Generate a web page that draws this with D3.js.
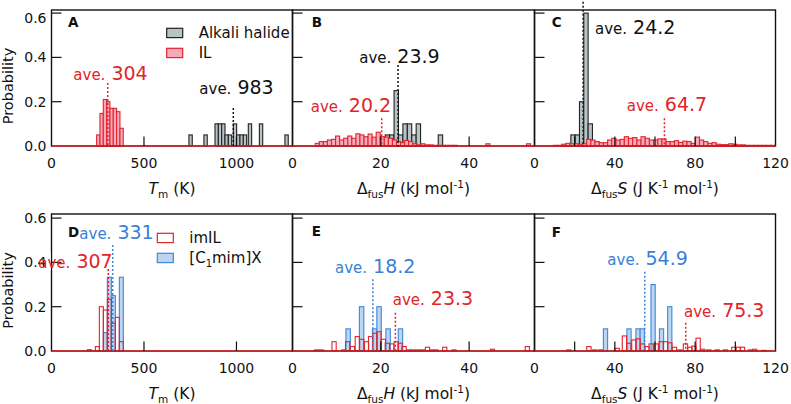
<!DOCTYPE html>
<html><head><meta charset="utf-8">
<script src="https://cdn.jsdelivr.net/npm/d3@7"></script>
<style>body{margin:0;background:#fff}svg{display:block}text{font-family:"DejaVu Sans",sans-serif}</style>
</head><body><svg id="c" width="791" height="404"></svg>
<script>
// ---------------- DATA ----------------
// Panel A: melting point Tm (K)
const tmILStart = 244, tmILWidth = 18;
const tmILProb = [0.05, 0.147, 0.21, 0.2, 0.17, 0.17, 0.155, 0.08];
const tmAlkaliWidth = 18;
const tmAlkaliX0 = [743, 824, 884, 902, 920, 938, 956, 983, 1001, 1019, 1037, 1064, 1124, 1262];
const tmAlkaliProb = [0.05, 0.05, 0.1, 0.1, 0.1, 0.05, 0.05, 0.1, 0.05, 0.05, 0.05, 0.1, 0.1, 0.05];
const tmILMean = 304, tmAlkaliMean = 983;
// Panel B: fusion enthalpy (kJ/mol)
const hILStart = 5.15, hILWidth = 0.92;
const hILProb = [0.012,0.02,0.02,0.027,0.03,0.045,0.027,0.035,0.045,0.035,0.055,0.05,0.042,0.054,0.04,0.062,0.042,0.04,0.035,0.027,0.02,0.015,0.025,0.02,0.01,0.005,0.01,0.005,0.005,0.003,0.003,0.003,0.003,0.003,0.003,0,0,0,0,0,0,0,0.01,0,0,0,0,0,0,0,0,0,0.01];
const hAlkaliWidth = 1.0;
const hAlkaliX0 = [21, 22, 23, 24, 25, 26, 27, 28, 33];
const hAlkaliProb = [0.05, 0.05, 0.25, 0.05, 0.1, 0.1, 0.05, 0.1, 0.05];
const hILMean = 20.2, hAlkaliMean = 23.9;
// Panel C: fusion entropy (J/K/mol)
const sILStart = 9.36, sILWidth = 2.08;
const sILProb = [0.003,0.003,0.008,0.012,0.01,0.01,0.008,0.01,0.03,0.027,0.02,0.015,0.015,0.027,0.035,0.027,0.03,0.042,0.035,0.038,0.027,0.042,0.035,0.027,0.027,0.032,0.032,0.02,0.02,0.024,0.016,0.022,0.02,0.012,0.04,0.027,0.02,0.012,0.015,0.008,0.006,0.006,0.01,0.008,0.005,0.005,0.003,0.003,0.003,0.003,0.003,0.003,0.003];
const sAlkaliStart = 18.1, sAlkaliWidth = 2.15;
const sAlkaliProb = [0.05, 0.05, 0.2, 0.6, 0.1];
const sILMean = 64.7, sAlkaliMean = 24.2;
// Panel D: Tm, imIL vs [C1mim]X
const dStart = 194, dWidth = 21.6;
const tmImILProb = [0.006, 0, 0.02, 0.2, 0.185, 0.233, 0.125, 0.152, 0.042];
const tmC1Prob   = [0, 0, 0, 0, 0.083, 0.333, 0.25, 0, 0.333];
const tmImILMean = 307, tmC1Mean = 331;
// Panel E: enthalpy
const hImILWidth = 0.95;
const hImILX0 = [5.0,6.1,8.94,11.1,12.0,13.1,14.2,15.2,16.3,17.2,18.2,19.1,20.1,21.0,22.0,23.0,23.9,24.8,25.9,26.9,28.0,29.0,30.1,31.0,32.0,34.0,36.1,44.8,52.7];
const hImILProb = [0.005,0.005,0.042,0.005,0.042,0.02,0.065,0.053,0.042,0.065,0.08,0.087,0.053,0.035,0.032,0.042,0.035,0.02,0.005,0.005,0.005,0.005,0.017,0.005,0.005,0.017,0.005,0.008,0.02];
const hC1Width = 1.0;
const hC1X0 = [12.1, 15.15, 18.1, 19.1, 21.15, 23.95];
const hC1Prob = [0.1, 0.2, 0.1, 0.2, 0.1, 0.1];
const hImILMean = 23.3, hC1Mean = 18.2;
// Panel F: entropy
const sImILWidth = 2.15;
const sImILX0 = [16.0,26.0,28.8,31.8,40.1,43.7,45.9,48.4,50.5,52.7,55.0,57.0,59.5,62.0,64.2,66.3,68.6,71.3,74.1,76.3,78.3,80.4,82.6,85.7,89.9,94.0,98.2,100.3,102.5,106.5,108.5,113.1];
const sImILProb = [0.005,0.02,0.005,0.005,0.012,0.068,0.035,0.05,0.055,0.032,0.02,0.032,0.032,0.042,0.042,0.037,0.017,0.005,0.032,0.017,0.022,0.058,0.008,0.005,0.005,0.005,0.017,0.017,0.017,0.005,0.008,0.003];
const sC1Width = 2.1;
const sC1X0 = [34.3, 46.0, 50.5, 52.6, 58.0, 62.2, 66.3];
const sC1Prob = [0.1, 0.1, 0.1, 0.1, 0.3, 0.1, 0.2];
const sImILMean = 75.3, sC1Mean = 54.9;
// Axes
const yTicks = [0, 0.2, 0.4, 0.6];
const tmTicks = [0, 500, 1000], tmLabels = [0, 500, 1000];
const hTicks = [0, 20, 40], hLabels = [0, 20, 40];
const sTicks = [0, 20, 40, 60, 80, 100, 120], sLabels = [0, 40, 80, 120];
const panelLetters = ["A","B","C","D","E","F"];

// ---------------- STYLE ----------------
const RED = "#e3242b", PINK = "#f6aabb", GRAYF = "#b7c3c4", BLUE = "#3f86dd", BLUEF = "#bcd5f0", BLUET = "#3a7fd8";
const svg = d3.select("#c");
const cols = [[51.5, 292.5], [292.5, 534.5], [534.5, 775.5]];
const rows = [{top: 10, base: 146}, {top: 214, base: 351}];
const xDomains = [[0, 1303], [0, 54.8], [0, 120]];
const seq = (start, w, n) => d3.range(n).map(i => start + i * w);

function drawBars(g, xs, ys, x0s, probs, width, fill, stroke, sw) {
  g.append("g").selectAll("rect")
    .data(x0s.map((x0, i) => ({x0, p: probs[i]})).filter(d => d.p > 0))
    .join("rect")
    .attr("x", d => xs(d.x0)).attr("width", d => xs(d.x0 + width) - xs(d.x0))
    .attr("y", d => ys(d.p)).attr("height", d => ys(0) - ys(d.p))
    .attr("fill", fill).attr("stroke", stroke).attr("stroke-width", sw);
}

const panels = [
  {r:0,c:0, ticks:tmTicks, labels:tmLabels, series:[
    {x0:tmAlkaliX0, p:tmAlkaliProb, w:tmAlkaliWidth, fill:GRAYF, stroke:"#222"},
    {x0:seq(tmILStart,tmILWidth,tmILProb.length), p:tmILProb, w:tmILWidth, fill:PINK, stroke:RED}],
   means:[{v:tmILMean, col:RED, lc:RED, dx:-34.4, by:80, top:83, num:"304"},
          {v:tmAlkaliMean, col:"#111", lc:"#111", dx:-34, by:94.3, top:108, num:"983"}]},
  {r:0,c:1, ticks:hTicks, labels:hLabels, series:[
    {x0:hAlkaliX0, p:hAlkaliProb, w:hAlkaliWidth, fill:GRAYF, stroke:"#222"},
    {x0:seq(hILStart,hILWidth,hILProb.length), p:hILProb, w:hILWidth, fill:PINK, stroke:RED}],
   means:[{v:hAlkaliMean, col:"#111", lc:"#111", dx:-38.8, by:63.3, top:65, num:"23.9"},
          {v:hILMean, col:RED, lc:RED, dx:-71, by:111.7, top:118.3, num:"20.2"}]},
  {r:0,c:2, ticks:sTicks, labels:sLabels, series:[
    {x0:seq(sAlkaliStart,sAlkaliWidth,sAlkaliProb.length), p:sAlkaliProb, w:sAlkaliWidth, fill:GRAYF, stroke:"#222"},
    {x0:seq(sILStart,sILWidth,sILProb.length), p:sILProb, w:sILWidth, fill:PINK, stroke:RED}],
   means:[{v:sAlkaliMean, col:"#111", lc:"#111", dx:11.9, by:34.3, top:1.7, num:"24.2"},
          {v:sILMean, col:RED, lc:RED, dx:-37.7, by:111, top:118.3, num:"64.7"}]},
  {r:1,c:0, ticks:tmTicks, labels:tmLabels, series:[
    {x0:seq(dStart,dWidth,tmC1Prob.length), p:tmC1Prob, w:dWidth, fill:BLUEF, stroke:BLUE},
    {x0:seq(dStart,dWidth,tmImILProb.length), p:tmImILProb, w:dWidth, fill:"none", stroke:RED}],
   means:[{v:tmC1Mean, col:BLUET, lc:BLUE, dx:-33.4, by:239.3, top:245, num:"331"},
          {v:tmImILMean, col:RED, lc:RED, dx:-70, by:268.3, top:269, num:"307", bg:true}]},
  {r:1,c:1, ticks:hTicks, labels:hLabels, series:[
    {x0:hC1X0, p:hC1Prob, w:hC1Width, fill:BLUEF, stroke:BLUE},
    {x0:hImILX0, p:hImILProb, w:hImILWidth, fill:"none", stroke:RED}],
   means:[{v:hC1Mean, col:BLUET, lc:BLUE, dx:-37.9, by:273.3, top:279.3, num:"18.2"},
          {v:hImILMean, col:RED, lc:RED, dx:-2.7, by:305, top:312.7, num:"23.3"}]},
  {r:1,c:2, ticks:sTicks, labels:sLabels, series:[
    {x0:sC1X0, p:sC1Prob, w:sC1Width, fill:BLUEF, stroke:BLUE},
    {x0:sImILX0, p:sImILProb, w:sImILWidth, fill:"none", stroke:RED}],
   means:[{v:sC1Mean, col:BLUET, lc:BLUE, dx:-37.4, by:265, top:271.7, num:"54.9"},
          {v:sImILMean, col:RED, lc:RED, dx:-1.7, by:317.3, top:322.7, num:"75.3"}]}
];

const letterPos = [[68,27],[311.7,26.5],[551.7,26.5],[68,237],[311.7,235.5],[551.7,236.5]];

panels.forEach((P, k) => {
  const [xl, xr] = cols[P.c];
  const {top, base} = rows[P.r];
  const xs = d3.scaleLinear().domain(xDomains[P.c]).range([xl, xr]);
  const ys = d3.scaleLinear().domain([0, 0.6]).range([base, base - 0.6 * 221.5]);
  const g = svg.append("g");
  const clipId = "clip" + k;
  svg.append("clipPath").attr("id", clipId).append("rect")
    .attr("x", xl).attr("y", top).attr("width", xr - xl).attr("height", base - top + 2);
  const gb = g.append("g").attr("clip-path", `url(#${clipId})`);
  P.series.forEach(s => drawBars(gb, xs, ys, s.x0, s.p, s.w, s.fill, s.stroke, 1.1));
  // frame
  g.append("rect").attr("x", xl).attr("y", top).attr("width", xr - xl).attr("height", base - top)
    .attr("fill", "none").attr("stroke", "#111").attr("stroke-width", 1.4);
  // red baseline
  g.append("line").attr("x1", xl).attr("x2", xr).attr("y1", base).attr("y2", base)
    .attr("stroke", RED).attr("stroke-width", 1.6);
  // x ticks (inward)
  P.ticks.filter(t => t > xDomains[P.c][0] && t < xDomains[P.c][1]).forEach(t => {
    g.append("line").attr("x1", xs(t)).attr("x2", xs(t)).attr("y1", base).attr("y2", base - 9.5)
      .attr("stroke", "#111").attr("stroke-width", 1.2);
  });
  P.labels.forEach(t => {
    g.append("text").attr("x", xs(t)).attr("y", base + 22).attr("text-anchor", "middle")
      .attr("font-size", 14).attr("fill", "#111").text(t);
  });
  // y ticks
  yTicks.forEach(t => {
    if (t > 0) g.append("line").attr("x1", xl).attr("x2", xl + 10).attr("y1", ys(t)).attr("y2", ys(t))
      .attr("stroke", "#111").attr("stroke-width", 1.2);
    if (P.c === 0) g.append("text").attr("x", xl - 5).attr("y", Math.max(ys(t), 18)).attr("dy", "0.36em")
      .attr("text-anchor", "end").attr("font-size", 14).attr("fill", "#111").text(d3.format(".1f")(t));
  });
  // mean lines and labels
  P.means.forEach(m => {
    const mx = xs(m.v);
    g.append("line").attr("x1", mx).attr("x2", mx).attr("y1", m.top).attr("y2", base)
      .attr("stroke", m.lc).attr("stroke-width", 1.5).attr("stroke-dasharray", "2,2");
    const t = g.append("text").attr("x", mx + m.dx).attr("y", m.by).attr("fill", m.col);
    t.append("tspan").attr("font-size", 15).text("ave.");
    t.append("tspan").attr("font-size", 19).text(" " + m.num);
    if (m.bg) {
      const bb = t.node().getBBox();
      g.insert("rect", "text").attr("x", bb.x - 1).attr("y", bb.y + 2).attr("width", xl - 0.8 - (bb.x - 1))
        .attr("height", bb.height - 4).attr("fill", "#fff");
      t.raise();
    }
  });
  // panel letter
  g.append("text").attr("x", letterPos[k][0]).attr("y", letterPos[k][1]).attr("font-size", 13.5)
    .attr("font-weight", "bold").attr("fill", "#111").text(panelLetters[k]);
  // axis title
  const tt = g.append("text").attr("x", (xl + xr) / 2).attr("y", base + 48).attr("text-anchor", "middle")
    .attr("font-size", 15.5).attr("fill", "#111");
  if (P.c === 0) {
    tt.append("tspan").attr("font-style", "italic").text("T");
    tt.append("tspan").attr("font-size", 10.5).attr("dy", 4).text("m");
    tt.append("tspan").attr("dy", -4).text(" (K)");
  } else if (P.c === 1) {
    tt.append("tspan").text("Δ");
    tt.append("tspan").attr("font-size", 10.5).attr("dy", 4).text("fus");
    tt.append("tspan").attr("dy", -4).attr("font-style", "italic").text("H");
    tt.append("tspan").text(" (kJ mol");
    tt.append("tspan").attr("font-size", 10.5).attr("dy", -6).text("-1");
    tt.append("tspan").attr("dy", 6).text(")");
  } else {
    tt.append("tspan").text("Δ");
    tt.append("tspan").attr("font-size", 10.5).attr("dy", 4).text("fus");
    tt.append("tspan").attr("dy", -4).attr("font-style", "italic").text("S");
    tt.append("tspan").text(" (J K");
    tt.append("tspan").attr("font-size", 10.5).attr("dy", -6).text("-1");
    tt.append("tspan").attr("dy", 6).text(" mol");
    tt.append("tspan").attr("font-size", 10.5).attr("dy", -6).text("-1");
    tt.append("tspan").attr("dy", 6).text(")");
  }
});

// y-axis titles
rows.forEach(r => {
  svg.append("text").attr("transform", `translate(12.5,${(r.top + r.base) / 2 + 8}) rotate(-90)`)
    .attr("text-anchor", "middle").attr("font-size", 14.5).attr("fill", "#111").text("Probability");
});

// legends
function legend(x, y, fill, stroke, label, sub) {
  svg.append("rect").attr("x", x).attr("y", y).attr("width", 16).attr("height", 9.3)
    .attr("fill", fill).attr("stroke", stroke).attr("stroke-width", 1.2);
  const t = svg.append("text").attr("x", x + 32).attr("y", y + 10).attr("font-size", 15).attr("fill", "#111");
  if (sub) {
    t.append("tspan").text(label[0]);
    t.append("tspan").attr("font-size", 10).attr("dy", 4).text(label[1]);
    t.append("tspan").attr("dy", -4).text(label[2]);
  } else t.text(label);
}
legend(166.7, 28.3, GRAYF, "#222", "Alkali halide");
legend(166.7, 48.3, PINK, RED, "IL");
legend(157.3, 233.3, "#fff", RED, "imIL");
legend(157.3, 253.3, BLUEF, BLUE, ["[C", "1", "mim]X"], true);
</script></body></html>
